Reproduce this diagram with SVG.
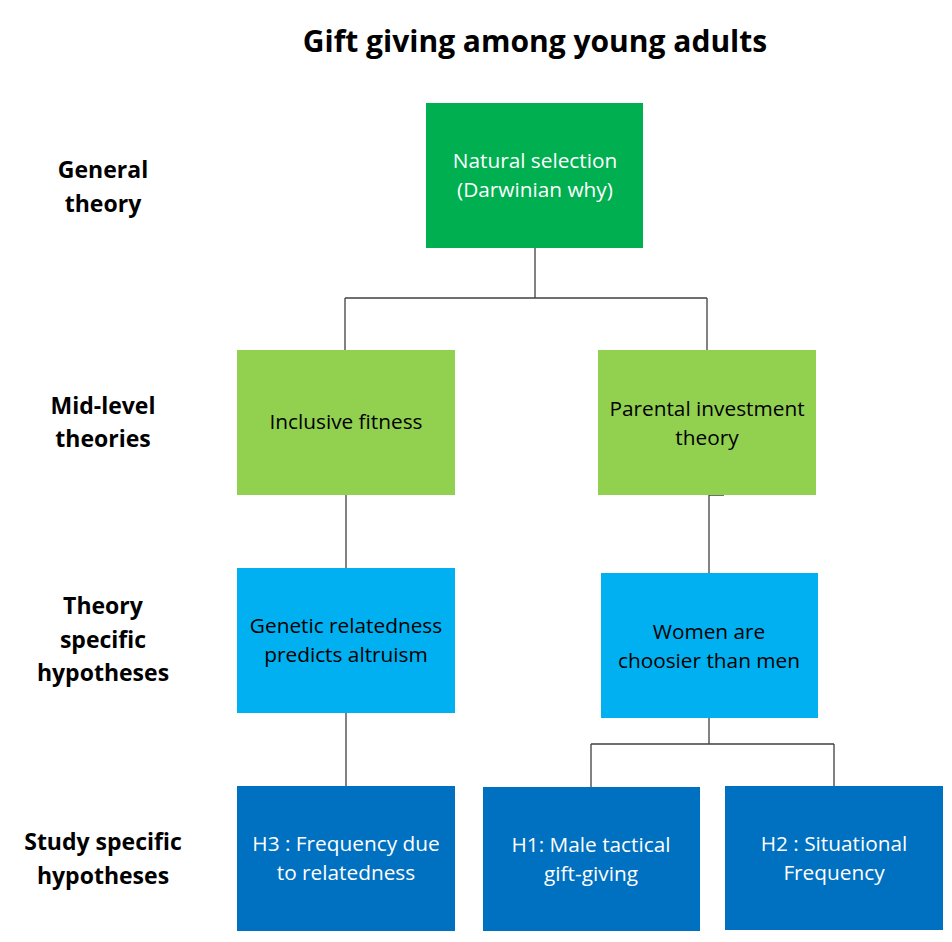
<svg xmlns="http://www.w3.org/2000/svg" width="952" height="942" viewBox="0 0 952 942">
<style>
text{font-family:"Open Sans","Liberation Sans",sans-serif}
.t{font-size:20.8px;text-anchor:middle}
.w{fill:#ffffff}
.k{fill:#000000}
.lab{font-size:23px;font-weight:bold;text-anchor:middle;fill:#000}
.c{fill:none;stroke:#404040;stroke-width:1.3}
</style>
<rect width="952" height="942" fill="#ffffff"/>
<text x="535" y="52" style="font-size:30px;font-weight:bold;text-anchor:middle" fill="#000">Gift giving among young adults</text>
<g id="labels">
<text class="lab" x="103" y="178">General</text>
<text class="lab" x="103" y="212">theory</text>
<text class="lab" x="103" y="414">Mid-level</text>
<text class="lab" x="103" y="447">theories</text>
<text class="lab" x="103" y="614">Theory</text>
<text class="lab" x="103" y="648">specific</text>
<text class="lab" x="103" y="681">hypotheses</text>
<text class="lab" x="103" y="850">Study specific</text>
<text class="lab" x="103" y="884">hypotheses</text>
</g>
<g id="connectors">
<path class="c" d="M535 248V298M345 298H707M345 298V350M707 298V350"/>
<path class="c" d="M346 495V568"/>
<path class="c" d="M724 495H709V573"/>
<path class="c" d="M346 713V786"/>
<path class="c" d="M709 718V744M591 744H834M591 744V787M834 744V786"/>
</g>
<g id="natural">
<rect x="426" y="103" width="217" height="145" fill="#00AF50"/>
<text class="t w" x="535" y="168">Natural selection</text>
<text class="t w" x="535" y="197">(Darwinian why)</text>
</g>
<g id="inclusive">
<rect x="237" y="350" width="218" height="145" fill="#92D050"/>
<text class="t k" x="346" y="429">Inclusive fitness</text>
</g>
<g id="parental">
<rect x="598" y="350" width="218" height="145" fill="#92D050"/>
<text class="t k" x="707" y="416">Parental investment</text>
<text class="t k" x="707" y="445">theory</text>
</g>
<g id="genetic">
<rect x="237" y="568" width="218" height="145" fill="#00B0F0"/>
<text class="t k" x="346" y="633">Genetic relatedness</text>
<text class="t k" x="346" y="662">predicts altruism</text>
</g>
<g id="women">
<rect x="601" y="573" width="217" height="145" fill="#00B0F0"/>
<text class="t k" x="709" y="639">Women are</text>
<text class="t k" x="709" y="668">choosier than men</text>
</g>
<g id="h3">
<rect x="237" y="786" width="218" height="145" fill="#0070C0"/>
<text class="t w" x="346" y="851">H3 : Frequency due</text>
<text class="t w" x="346" y="880">to relatedness</text>
</g>
<g id="h1">
<rect x="483" y="787" width="217" height="144" fill="#0070C0"/>
<text class="t w" x="591" y="852">H1: Male tactical</text>
<text class="t w" x="591" y="881">gift-giving</text>
</g>
<g id="h2">
<rect x="725" y="786" width="218" height="144" fill="#0070C0"/>
<text class="t w" x="834" y="851">H2 : Situational</text>
<text class="t w" x="834" y="880">Frequency</text>
</g>
</svg>
